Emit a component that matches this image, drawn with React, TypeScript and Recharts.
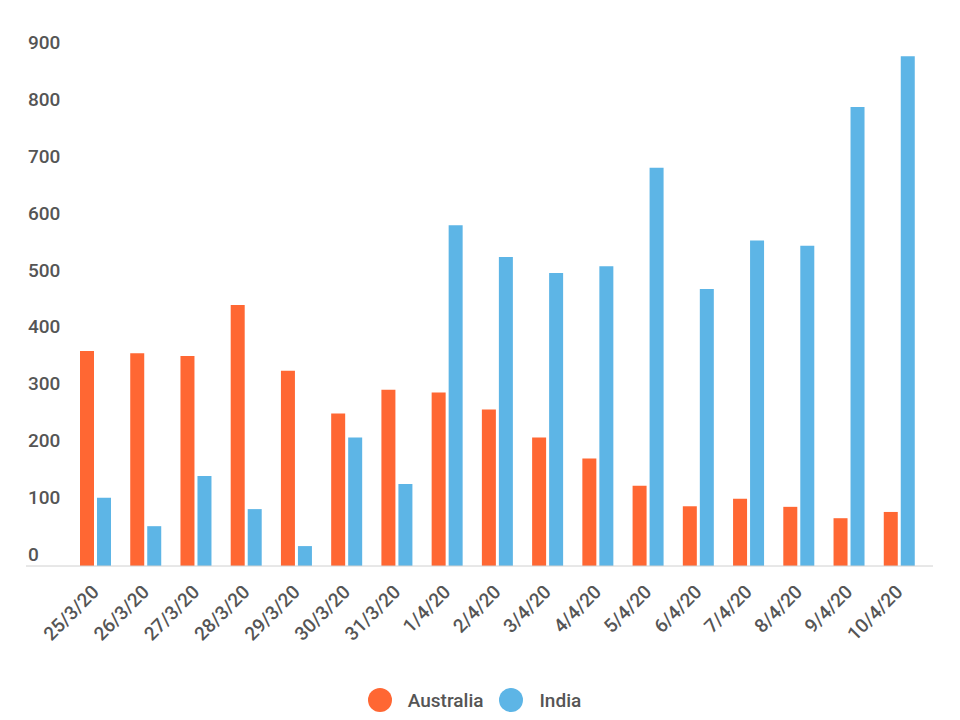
import { Bar, BarChart, Legend, XAxis, YAxis } from "recharts";

const dates = [
  "25/3/20", "26/3/20", "27/3/20", "28/3/20", "29/3/20", "30/3/20", "31/3/20",
  "1/4/20", "2/4/20", "3/4/20", "4/4/20", "5/4/20", "6/4/20", "7/4/20",
  "8/4/20", "9/4/20", "10/4/20",
];
const australia = [378, 374, 369, 459, 343, 268, 310, 305, 275, 226, 189, 141, 105, 118, 104, 84, 95];
const india = [120, 70, 158, 100, 35, 226, 144, 599, 543, 515, 527, 700, 487, 572, 563, 807, 896];
const yTicks = [0, 100, 200, 300, 400, 500, 600, 700, 800, 900];

const ORANGE = "#FF6733";
const BLUE = "#5DB5E6";
const TEXT = "#555555";
const FONT = "Roboto, 'Noto Sans', sans-serif";

const rows = dates.map((d, i) => ({ date: d, Australia: australia[i], India: india[i] }));

function YTick({ y, payload }: any) {
  return (
    <text x={28} y={y - 5} textAnchor="start" fill={TEXT} fontFamily={FONT} fontSize={19} fontWeight={500}>
      {payload.value}
    </text>
  );
}

function XTick({ x, y, payload }: any) {
  const ax = x + 5;
  const ay = y + 25;
  return (
    <text
      x={ax}
      y={ay}
      transform={`rotate(-45, ${ax}, ${ay})`}
      textAnchor="end"
      fill={TEXT}
      fontFamily={FONT}
      fontSize={19}
      fontWeight={500}
    >
      {payload.value}
    </text>
  );
}

function LegendRow({ payload }: any) {
  return (
    <div style={{ display: "flex", justifyContent: "center", alignItems: "center", height: 40 }}>
      {(payload || []).map((p: any) => (
        <div key={p.value} style={{ display: "flex", alignItems: "center", margin: "0 8px" }}>
          <span style={{ width: 24, height: 24, borderRadius: 12, background: p.color, display: "inline-block", marginRight: 16 }} />
          <span style={{ fontFamily: FONT, fontSize: 19, fontWeight: 500, color: TEXT }}>{p.value}</span>
        </div>
      ))}
    </div>
  );
}

export default function App() {
  return (
    <div style={{ position: "absolute", left: 0, top: 0, width: 960, height: 720, background: "#fff" }}>
      <BarChart width={960} height={720} data={rows} margin={{ top: 54, right: 27, bottom: 0, left: 16 }} barGap={3} barSize={14}>
        <XAxis
          dataKey="date"
          interval={0}
          height={114}
          padding={{ left: 44, right: 9 }}
          tickLine={false}
          tickSize={0}
          axisLine={{ stroke: "#d0d0d0" }}
          tick={<XTick />}
        />
        <YAxis
          domain={[0, 900]}
          ticks={yTicks}
          interval={0}
          width={10}
          axisLine={false}
          tickLine={false}
          tickSize={0}
          tickMargin={0}
          tick={<YTick />}
        />
        <Legend verticalAlign="bottom" content={<LegendRow />} wrapperStyle={{ height: 40 }} />
        <Bar dataKey="Australia" fill={ORANGE} isAnimationActive={false} />
        <Bar dataKey="India" fill={BLUE} isAnimationActive={false} />
      </BarChart>
    </div>
  );
}
